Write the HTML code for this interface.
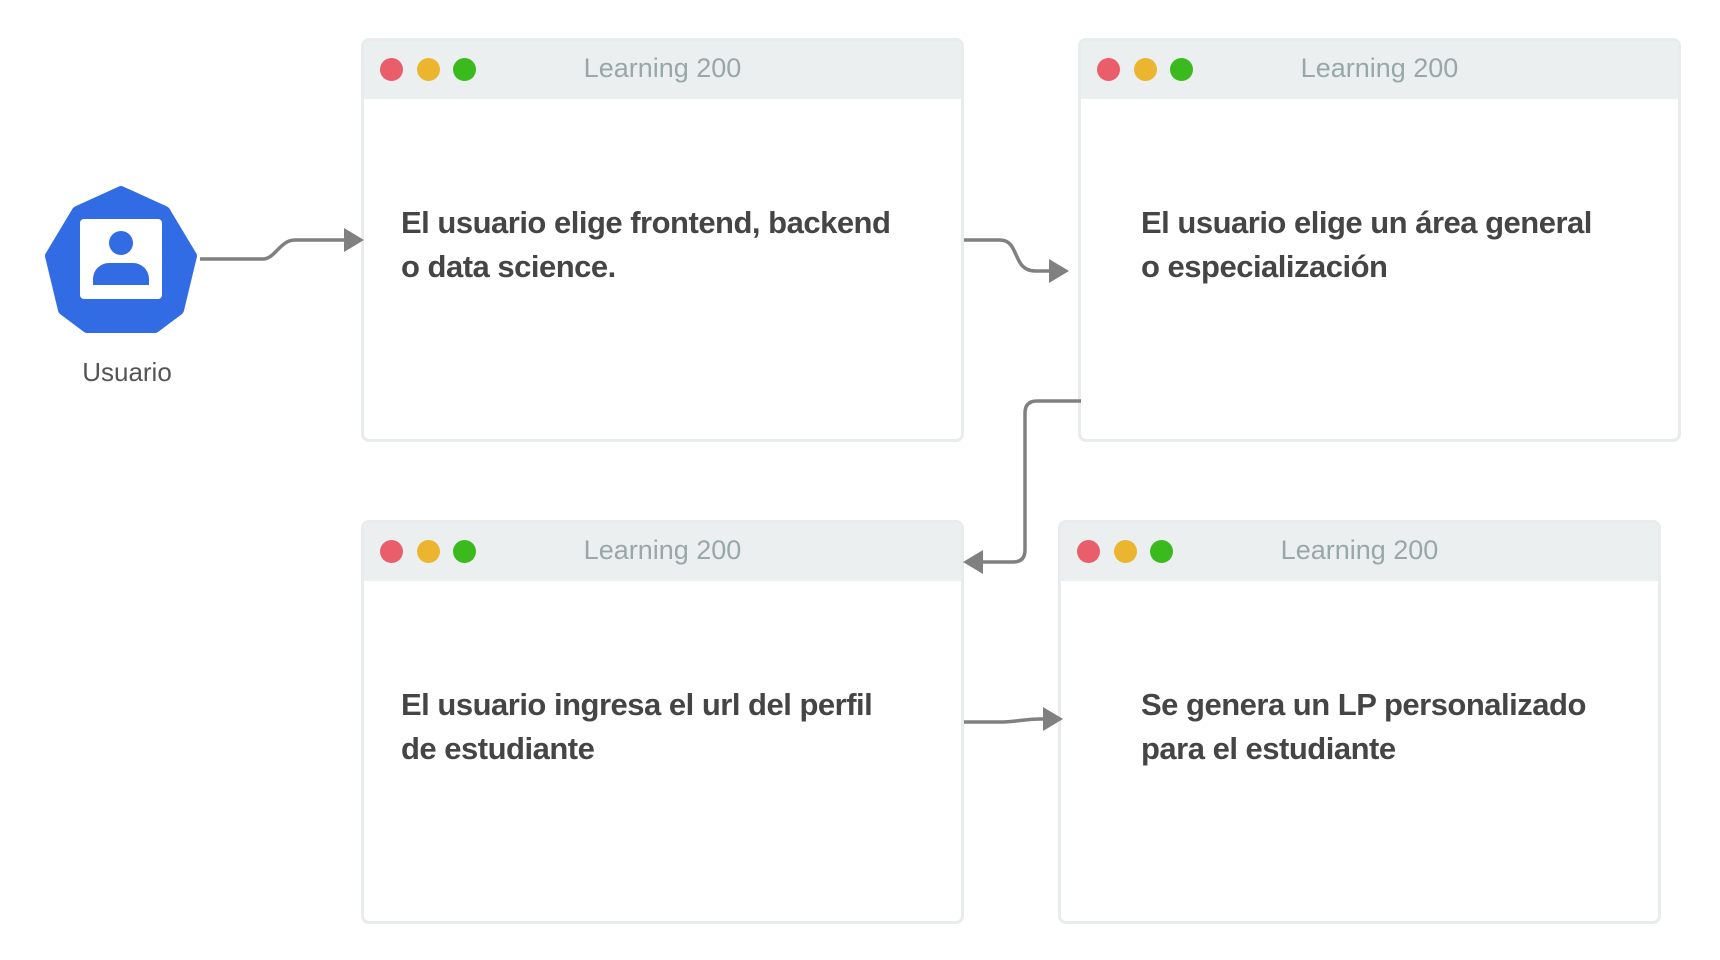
<!DOCTYPE html>
<html><head><meta charset="utf-8"><style>
html,body{margin:0;padding:0;background:#fff;}
body{width:1720px;height:960px;position:relative;overflow:hidden;font-family:"Liberation Sans","Noto Sans CJK JP",sans-serif;}
.card{position:absolute;width:603px;height:404px;border:3px solid #e8ecec;border-radius:8px;box-sizing:border-box;background:#fff;overflow:hidden;}
.hd{height:58px;background:#ebefef;position:relative;}
.dot{position:absolute;top:17px;width:23px;height:23px;border-radius:50%;}
.r{left:16px;background:#ea5d6a}.y{left:53px;background:#ecb530}.g{left:89px;background:#3bba1e}
.tt{position:absolute;left:0;right:0;top:12px;text-align:center;font-size:27px;color:#98a8a8;}
.bd{position:absolute;left:37px;top:160px;font-size:31px;font-weight:bold;color:#454545;line-height:44px;letter-spacing:-0.5px;}
</style></head><body>
<div class="card" style="left:361px;top:38px"><div class="hd"><div class="dot r"></div><div class="dot y"></div><div class="dot g"></div><div class="tt">Learning 200</div></div><div class="bd">El usuario elige frontend, backend<br>o data science.</div></div>
<div class="card" style="left:1078px;top:38px"><div class="hd"><div class="dot r"></div><div class="dot y"></div><div class="dot g"></div><div class="tt">Learning 200</div></div><div class="bd" style="left:60px">El usuario elige un área general<br>o especialización</div></div>
<div class="card" style="left:361px;top:520px"><div class="hd"><div class="dot r"></div><div class="dot y"></div><div class="dot g"></div><div class="tt">Learning 200</div></div><div class="bd">El usuario ingresa el url del perfil<br>de estudiante</div></div>
<div class="card" style="left:1058px;top:520px"><div class="hd"><div class="dot r"></div><div class="dot y"></div><div class="dot g"></div><div class="tt">Learning 200</div></div><div class="bd" style="left:80px">Se genera un LP personalizado<br>para el estudiante</div></div>
<svg width="1720" height="960" style="position:absolute;left:0;top:0">
<polygon points="121,191 165,211 192,256 179,310 155,328 87,328 63,310 50,256 77,211" fill="#326ce5" stroke="#326ce5" stroke-width="10" stroke-linejoin="round"/>
<rect x="80" y="219" width="82" height="80" rx="4" fill="#fff"/>
<circle cx="121" cy="243" r="12" fill="#326ce5"/>
<path d="M93,285 v-6 a16,16 0 0 1 16,-16 h24 a16,16 0 0 1 16,16 v6 z" fill="#326ce5"/>
<text x="127" y="381" text-anchor="middle" font-size="26" fill="#555" font-family="Liberation Sans,sans-serif">Usuario</text>
<g fill="none" stroke="#808080" stroke-width="3.5">
<path d="M200,259 H263 C275,259 280,240 295,240 H350"/>
<path d="M964,240 H1000 C1020,240 1012,271 1035,271 H1053"/>
<path d="M1081,401 H1037 Q1025,401 1025,413 V550 Q1025,562 1013,562 H978"/>
<path d="M964,722 H1000 C1015,722 1025,719 1040,719 H1048"/>
</g>
<g fill="#808080">
<polygon points="364,240 344,228 344,252"/>
<polygon points="1069,271 1049,259 1049,283"/>
<polygon points="963,562 983,550 983,574"/>
<polygon points="1063,719 1043,707 1043,731"/>
</g>
</svg>
</body></html>
